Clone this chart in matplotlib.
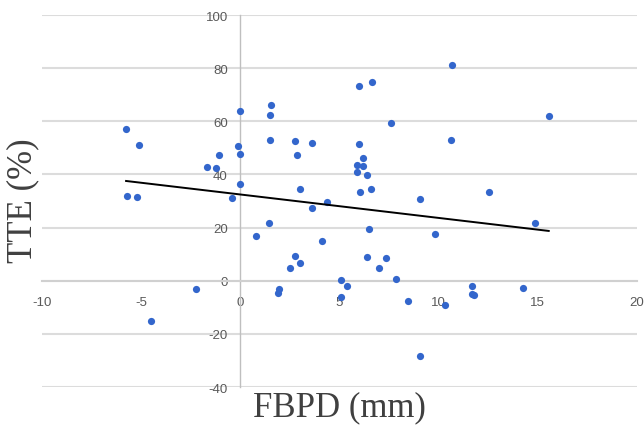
import numpy as np
import matplotlib
matplotlib.use("Agg")
import matplotlib.pyplot as plt

plt.rcParams['axes.unicode_minus'] = False

# FBPD (mm) vs TTE (%)
fbpd = [-5.76, -5.11, -5.73, -5.21, -1.70, -1.23, -1.07, -0.12, -0.02, 0.0,
        0.0, -0.43, 1.53, 1.48, 1.48, 2.76, 2.86, 3.60, 2.99, 3.60,
        4.39, 5.97, 6.66, 10.69, 7.58, 15.55, 10.64, 5.97, 6.19, 5.87,
        6.20, 5.87, 6.39, 6.05, 6.58, 9.06, 12.54, 1.46, 0.78, 4.10,
        2.76, 3.01, 2.49, 1.97, 1.89, -2.23, -4.52, 14.88, 6.47, 9.82,
        6.39, 7.33, 6.99, 7.87, 5.09, 5.38, 5.09, 8.47, 10.32, 11.67,
        11.67, 11.77, 14.26, 9.06]
tte = [57.0, 51.0, 31.9, 31.5, 42.8, 42.4, 47.2, 50.7, 47.6, 63.9,
       36.5, 31.3, 66.0, 62.5, 52.8, 52.5, 47.2, 51.8, 34.5, 27.5,
       29.6, 73.3, 74.7, 81.3, 59.5, 61.9, 53.1, 51.5, 46.2, 43.5,
       43.0, 41.0, 39.9, 33.4, 34.4, 30.6, 33.4, 21.8, 16.9, 14.9,
       9.4, 6.6, 4.9, -3.3, -4.5, -3.2, -15.3, 21.8, 19.4, 17.7,
       9.0, 8.7, 4.9, 0.75, 0.4, -2.1, -6.0, -7.7, -9.2, -1.8,
       -4.9, -5.5, -2.8, -28.5]

x = np.array(fbpd)
y = np.array(tte)

fig = plt.figure(figsize=(6.44, 4.27), dpi=100)
ax = fig.add_axes([0.0652, 0.0913, 0.9239, 0.8712])

ax.set_xlim(-10, 20)
ax.set_ylim(-40, 100)
ax.set_xticks([-10, -5, 0, 5, 10, 15, 20])
ax.set_yticks([-40, -20, 0, 20, 40, 60, 80, 100])

for s in ['top', 'right']:
    ax.spines[s].set_visible(False)
ax.spines['left'].set_position(('data', 0))
ax.spines['bottom'].set_position(('data', 0))
ax.spines['left'].set_color('#bfbfbf')
ax.spines['bottom'].set_color('#d0d0d0')
ax.spines['left'].set_linewidth(1.0)
ax.spines['bottom'].set_linewidth(1.5)

ax.yaxis.grid(True, color='#dcdcdc', linewidth=1.5)
ax.set_axisbelow(True)
ax.tick_params(length=0, labelsize=9.5, labelcolor='#595959')
ax.tick_params(axis='y', pad=9)
ax.tick_params(axis='x', pad=11)
for lab in ax.get_xticklabels() + ax.get_yticklabels():
    lab.set_family('Liberation Sans')

ax.scatter(x, y, s=27, color='#3366cc', zorder=3, linewidths=0)

# linear trendline
m, b = np.polyfit(x, y, 1)
xs = np.array([x.min(), x.max()])
ax.plot(xs, m * xs + b, color='black', linewidth=1.4, zorder=4)

fig.text(0.036, 0.53, 'TTE (%)', rotation=90, ha='center', va='center',
         family='Liberation Serif', fontsize=25, color='#404040')
fig.text(0.527, 0.045, 'FBPD (mm)', ha='center', va='center',
         family='Liberation Serif', fontsize=25, color='#404040')

fig.savefig('out.png', dpi=100)
